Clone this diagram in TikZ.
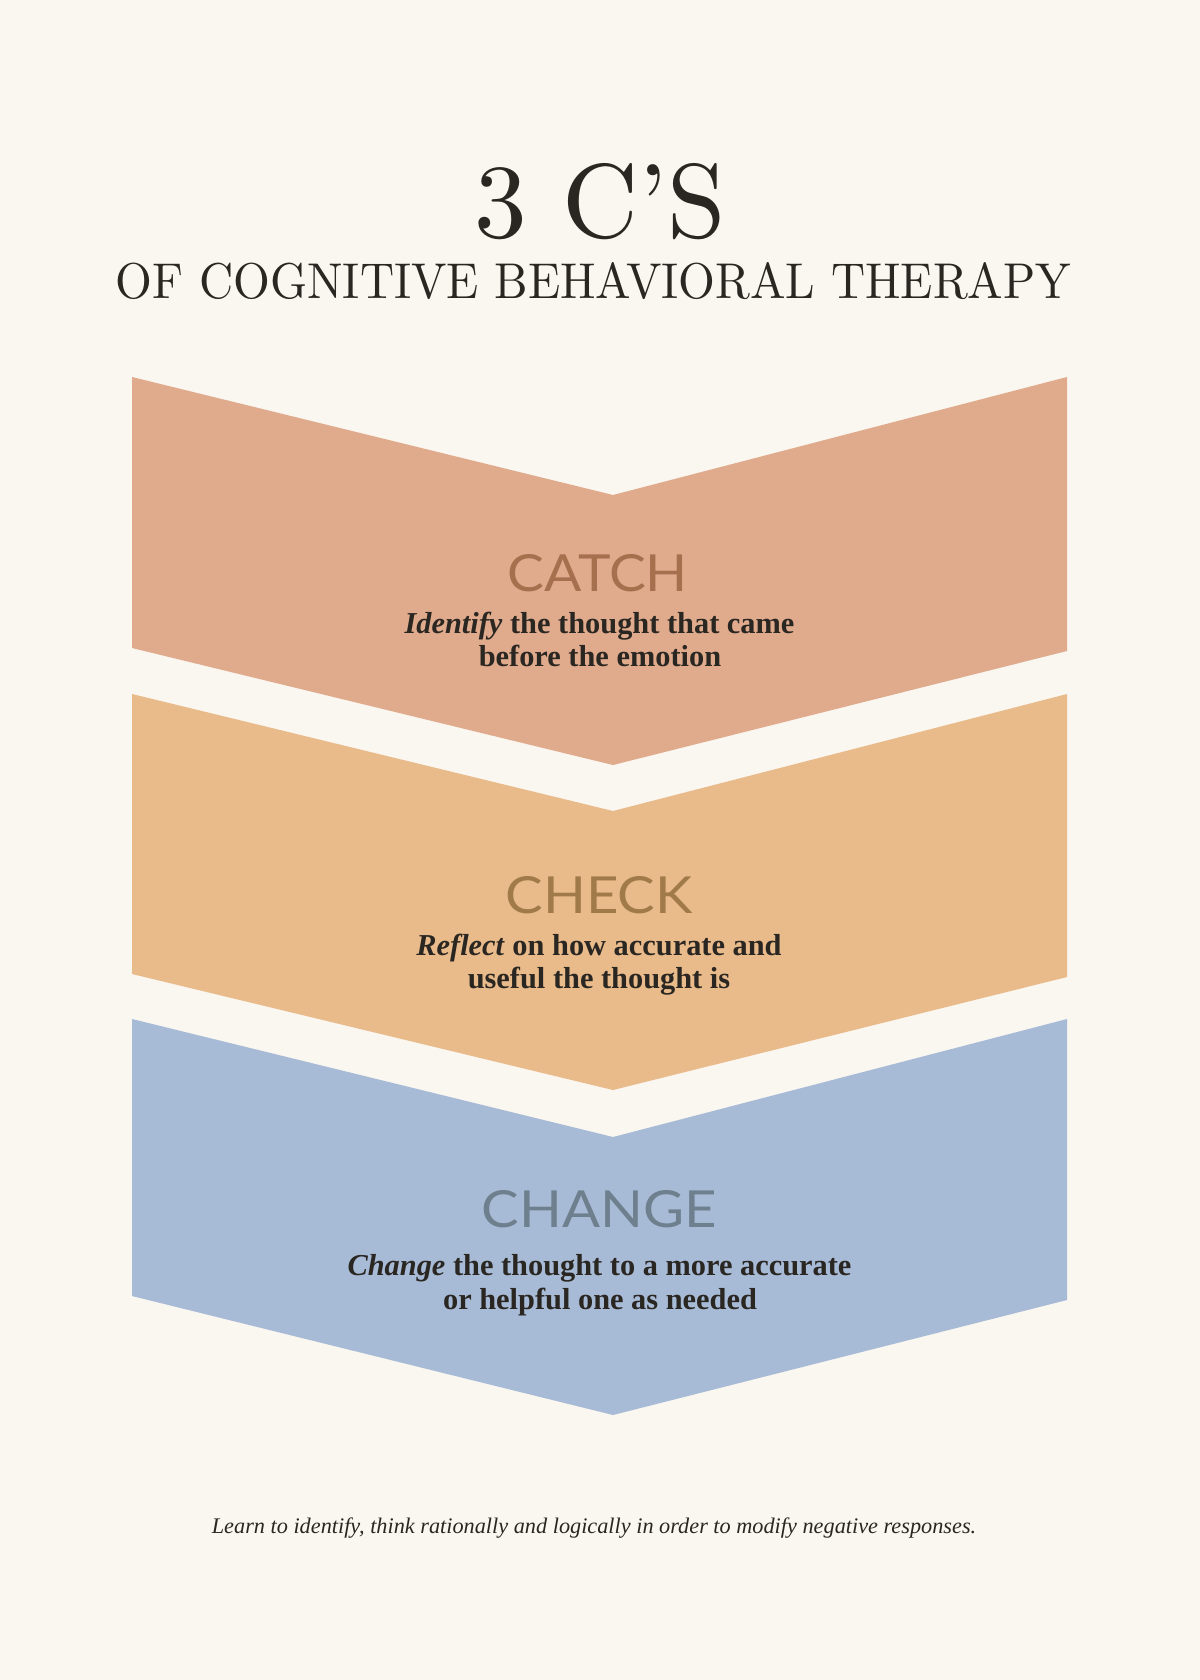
\documentclass[tikz,border=0pt]{standalone}
\usepackage{fontspec}
\setmainfont{Liberation Serif}
\newfontfamily\headfont{Lato}
\newfontfamily\titlefont{Latin Modern Roman}
\definecolor{bg}{HTML}{FAF6F0}
\definecolor{catchfill}{HTML}{E0AB8C}
\definecolor{checkfill}{HTML}{E9BB8B}
\definecolor{changefill}{HTML}{A8BBD6}
\definecolor{catchtext}{HTML}{A6704F}
\definecolor{checktext}{HTML}{A07A48}
\definecolor{changetext}{HTML}{6E808E}
\definecolor{ink}{HTML}{2A2622}
\newcommand{\fitbox}[3]{\resizebox{#1}{#2}{#3}}
\begin{document}
\begin{tikzpicture}[x=0.025cm,y=-0.025cm,
  heading/.style={anchor=base,inner sep=0pt,outer sep=0pt,font=\headfont},
  bodyline/.style={anchor=base,inner sep=0pt,outer sep=0pt,text=ink,font=\fontsize{21.6}{26}\selectfont\bfseries},
  titletext/.style={anchor=base,inner sep=0pt,outer sep=0pt,text=ink,font=\titlefont}]
\fill[bg] (0,0) rectangle (1200,1680);
\useasboundingbox (0,0) rectangle (1200,1680);
% chevrons
\fill[catchfill] (132,377) -- (613,495) -- (1067,377) -- (1067,651) -- (613,765) -- (132,648) -- cycle;
\fill[checkfill] (132,694) -- (613,811) -- (1067,694) -- (1067,977) -- (613,1090) -- (132,974) -- cycle;
\fill[changefill] (132,1019) -- (613,1137) -- (1067,1019) -- (1067,1300) -- (613,1415) -- (132,1296) -- cycle;
% title
\node[titletext] (title) at (600.5,238) {\fitbox{6.275cm}{1.85cm}{3 C’S}};
\node[titletext] (subtitle) at (593.5,299) {\fitbox{23.875cm}{0.9cm}{OF COGNITIVE BEHAVIORAL THERAPY}};
% catch
\node[heading,text=catchtext] (catch) at (598,591) {\fitbox{4.5cm}{0.925cm}{CATCH}};
\node[bodyline] (catch1) at (599.5,633) {\textit{Identify} the thought that came};
\node[bodyline] (catch2) at (600,666) {before the emotion};
% check
\node[heading,text=checktext] (check) at (599,913) {\fitbox{4.675cm}{0.925cm}{CHECK}};
\node[bodyline] (check1) at (599,955) {\textit{Reflect} on how accurate and};
\node[bodyline] (check2) at (599,988) {useful the thought is};
% change
\node[heading,text=changetext] (change) at (599,1227) {\fitbox{5.875cm}{0.925cm}{CHANGE}};
\node[bodyline] (change1) at (599.5,1275) {\textit{Change} the thought to a more accurate};
\node[bodyline] (change2) at (600,1309) {or helpful one as needed};
% footer
\node[anchor=base,inner sep=0pt,text=ink] (footer) at (594,1533) {\resizebox{19.1cm}{!}{\itshape Learn to identify, think rationally and logically in order to modify negative responses.}};
\end{tikzpicture}
\end{document}
